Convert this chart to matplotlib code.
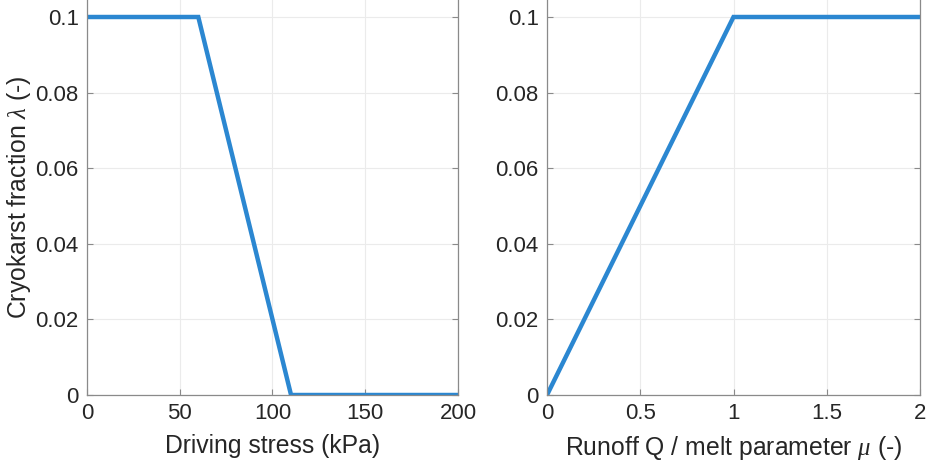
import matplotlib
matplotlib.use("Agg")
import matplotlib.pyplot as plt

# Data
stress_x = [0, 60, 110, 200]
stress_y = [0.1, 0.1, 0.0, 0.0]
runoff_x = [0, 1, 2]
runoff_y = [0.0, 0.1, 0.1]

xticks_left = [0, 50, 100, 150, 200]
xticks_right = [0, 0.5, 1, 1.5, 2]
yticks = [0, 0.02, 0.04, 0.06, 0.08, 0.1]
ytick_labels = ["0", "0.02", "0.04", "0.06", "0.08", "0.1"]
xtick_labels_right = ["0", "0.5", "1", "1.5", "2"]

plt.rcParams['font.family'] = ['Liberation Sans', 'DejaVu Sans']
plt.rcParams['mathtext.fontset'] = 'custom'
plt.rcParams['mathtext.it'] = 'Liberation Serif:italic'
plt.rcParams['mathtext.rm'] = 'Liberation Sans'

line_color = '#2b87d1'
text_color = '#262626'
axis_color = '#8a8a8a'
grid_color = '#ebebeb'

fig = plt.figure(figsize=(9.28, 4.68), dpi=100)
W, H = 928, 468
ytop = 0.1 * 395 / 378

def make_ax(left_px, right_px):
    ax = fig.add_axes([left_px / W, (H - 395) / H, (right_px - left_px) / W, 395 / H])
    ax.set_ylim(0, ytop)
    ax.set_yticks(yticks)
    ax.set_yticklabels(ytick_labels)
    ax.grid(True, color=grid_color, linewidth=0.8)
    ax.set_axisbelow(True)
    for s in ax.spines.values():
        s.set_color(axis_color)
        s.set_linewidth(0.9)
    ax.spines['top'].set_visible(False)
    ax.tick_params(axis='both', which='both', direction='in', length=4, color=axis_color,
                   labelsize=16, labelcolor=text_color, right=True, pad=6)
    return ax

ax1 = make_ax(87, 458)
ax1.plot(stress_x, stress_y, color=line_color, linewidth=3.2, solid_joinstyle='miter')
ax1.set_xlim(0, 200)
ax1.set_xticks(xticks_left)
ax1.set_xlabel('Driving stress (kPa)', fontsize=17.8, color=text_color, labelpad=7)
ax1.set_ylabel(r'Cryokarst fraction $\lambda$ (-)', fontsize=17.8, color=text_color, labelpad=2)

ax2 = make_ax(547, 920)
ax2.plot(runoff_x, runoff_y, color=line_color, linewidth=3.2, solid_joinstyle='miter')
ax2.set_xlim(0, 2)
ax2.set_xticks(xticks_right)
ax2.set_xticklabels(xtick_labels_right)
ax2.set_xlabel(r'Runoff Q / melt parameter $\mu$ (-)', fontsize=17.8, color=text_color, labelpad=7)

fig.savefig('out.png', dpi=100)
